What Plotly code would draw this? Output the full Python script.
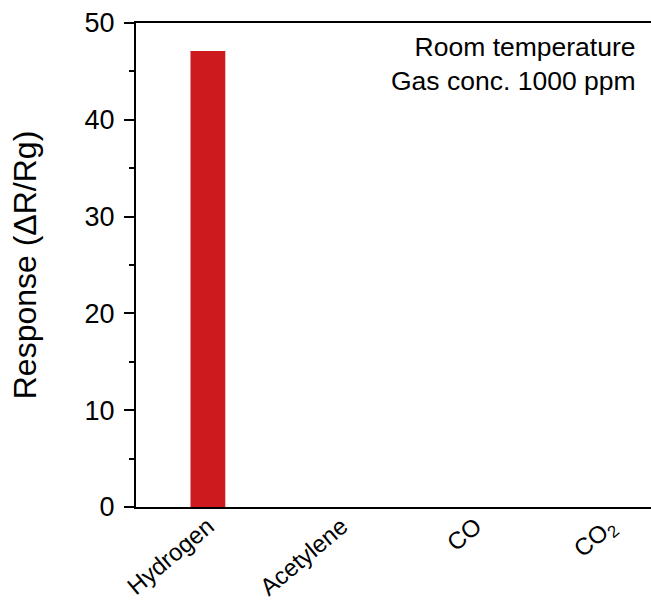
import plotly.graph_objects as go

gases = ["Hydrogen", "Acetylene", "CO", "CO<sub>2</sub>"]
response = [47.1, 0, 0, 0]
y_ticks = [0, 10, 20, 30, 40, 50]
note_lines = ["Room temperature", "Gas conc. 1000 ppm"]

FONT = "Liberation Sans, Arial, sans-serif"

fig = go.Figure(go.Bar(
    x=list(range(len(gases))), y=response,
    width=0.26, marker=dict(color="#cc1a1e", line=dict(width=0)),
))

fig.update_layout(
    width=651, height=602,
    margin=dict(l=136, r=0, t=23, b=95, autoexpand=False),
    paper_bgcolor="white", plot_bgcolor="white",
    font=dict(family=FONT, color="black"),
    showlegend=False,
)
fig.update_xaxes(
    range=[-0.537, 3.31],
    tickmode="array", tickvals=list(range(len(gases))), ticktext=gases,
    tickangle=-40, ticks="", tickfont=dict(size=24),
    ticklabelstandoff=-6,
    showline=True, linecolor="black", linewidth=2, mirror=True,
    showgrid=False, zeroline=False,
)
fig.update_yaxes(
    range=[0, 50], tickvals=y_ticks,
    ticks="outside", ticklen=10, tickwidth=2, tickcolor="black",
    ticklabelstandoff=4,
    minor=dict(dtick=5, ticks="outside", ticklen=5, tickwidth=1.5, tickcolor="black"),
    tickfont=dict(size=27),
    showline=True, linecolor="black", linewidth=2,
    showgrid=False, zeroline=False,
    title=dict(text="Response (ΔR/Rg)", font=dict(size=32), standoff=38),
)
fig.add_annotation(
    xref="paper", yref="paper", x=0.975, y=0.986,
    xanchor="right", yanchor="top", align="right", showarrow=False,
    text="<br>".join(note_lines), font=dict(size=26.5, family=FONT),
)

fig.write_html("out.html")
